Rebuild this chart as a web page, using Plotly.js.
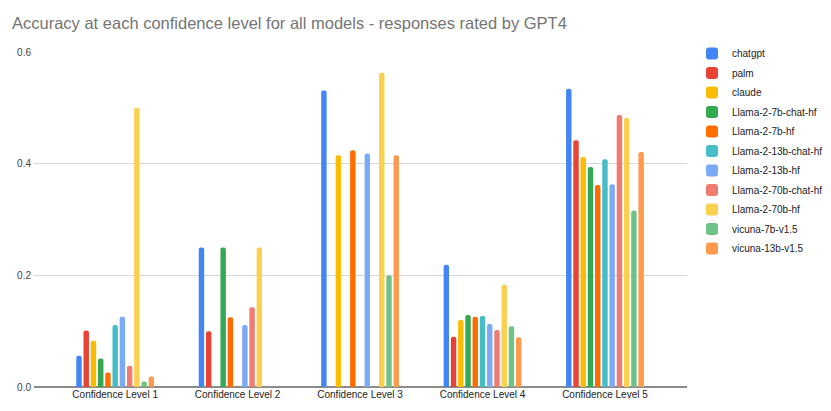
<!DOCTYPE html>
<html>
<head>
<meta charset="utf-8">
<script src="https://cdn.plot.ly/plotly-3.0.1.min.js"></script>
<style>
html,body{margin:0;padding:0;background:#fff;}
#chart{width:831px;height:411px;}
</style>
</head>
<body>
<div id="chart"></div>
<script>
var categories = ["Confidence Level 1", "Confidence Level 2", "Confidence Level 3", "Confidence Level 4", "Confidence Level 5"];
var models = ["chatgpt", "palm", "claude", "Llama-2-7b-chat-hf", "Llama-2-7b-hf", "Llama-2-13b-chat-hf", "Llama-2-13b-hf", "Llama-2-70b-chat-hf", "Llama-2-70b-hf", "vicuna-7b-v1.5", "vicuna-13b-v1.5"];
var colors = ["#4285F4", "#EA4335", "#FBBC04", "#34A853", "#FF6D01", "#46BDC6", "#7BAAF7", "#F07B72", "#FCD04F", "#71C287", "#FF994D"];

var chatgpt            = [0.056, 0.250, 0.531, 0.219, 0.534];
var palm               = [0.101, 0.100, null,  0.090, 0.442];
var claude             = [0.083, null,  0.415, 0.120, 0.412];
var llama2_7b_chat_hf  = [0.051, 0.250, null,  0.129, 0.394];
var llama2_7b_hf       = [0.026, 0.125, 0.424, 0.126, 0.362];
var llama2_13b_chat_hf = [0.111, null,  null,  0.127, 0.408];
var llama2_13b_hf      = [0.126, 0.111, 0.418, 0.113, 0.363];
var llama2_70b_chat_hf = [0.038, 0.143, null,  0.102, 0.487];
var llama2_70b_hf      = [0.500, 0.250, 0.563, 0.183, 0.482];
var vicuna_7b_v15      = [0.010, null,  0.200, 0.109, 0.316];
var vicuna_13b_v15     = [0.019, null,  0.415, 0.089, 0.421];

var seriesValues = [chatgpt, palm, claude, llama2_7b_chat_hf, llama2_7b_hf, llama2_13b_chat_hf,
                    llama2_13b_hf, llama2_70b_chat_hf, llama2_70b_hf, vicuna_7b_v15, vicuna_13b_v15];
var yTicks = [0, 0.2, 0.4, 0.6];

var traces = models.map(function (m, i) {
  return {
    type: "bar",
    name: m,
    legendgroup: m,
    x: categories,
    y: seriesValues[i],
    marker: {color: colors[i], cornerradius: 2, line: {width: 0}},
    hoverinfo: "x+y+name"
  };
});

var font = "Arial, 'Liberation Sans', sans-serif";

var layout = {
  width: 831,
  height: 411,
  margin: {l: 34, r: 144, t: 52, b: 24, pad: 0},
  paper_bgcolor: "#ffffff",
  plot_bgcolor: "#ffffff",
  font: {family: font, size: 10, color: "#222222"},
  title: {
    text: "Accuracy at each confidence level for all models - responses rated by GPT4",
    font: {family: font, size: 16.5, color: "#757575"},
    x: 12 / 831, xanchor: "left", xref: "container",
    y: 1 - 23 / 411, yanchor: "middle", yref: "container"
  },
  barmode: "group",
  bargap: 0.35,
  bargroupgap: 0.25,
  xaxis: {
    type: "category",
    range: [-0.663, 4.67],
    showgrid: false,
    zeroline: false,
    showline: false,
    ticks: "",
    tickfont: {family: font, size: 10, color: "#222222"},
    fixedrange: true
  },
  yaxis: {
    range: [0, 0.6],
    tickvals: yTicks,
    tickformat: ".1f",
    showgrid: true,
    gridcolor: "#d9d9d9",
    gridwidth: 1,
    zeroline: true,
    zerolinecolor: "#8c8c8c",
    zerolinewidth: 1.5,
    showline: false,
    ticks: "",
    ticklabelstandoff: 2,
    tickfont: {family: font, size: 10, color: "#444444"},
    fixedrange: true
  },
  legend: {
    xref: "container", yref: "container",
    x: 692 / 831, xanchor: "left",
    y: 1 - 39 / 411, yanchor: "top",
    traceorder: "grouped",
    tracegroupgap: 0.5,
    maxheight: 380,
    font: {family: font, size: 10, color: "#222222"},
    bgcolor: "rgba(0,0,0,0)",
    borderwidth: 0
  },
  showlegend: true
};

Plotly.newPlot("chart", traces, layout, {displayModeBar: false, staticPlot: true});
</script>
</body>
</html>
